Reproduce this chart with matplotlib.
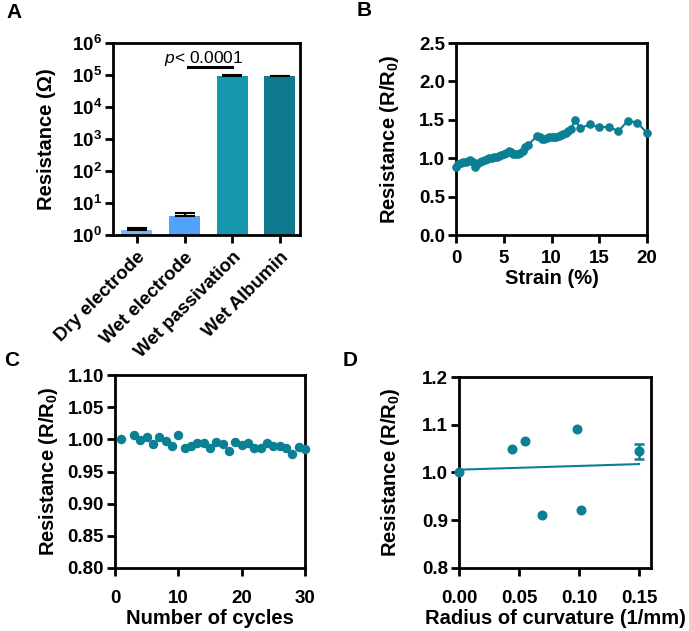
import numpy as np
import matplotlib
matplotlib.use("Agg")
import matplotlib.pyplot as plt

plt.rcParams['font.family'] = ['Liberation Sans', 'DejaVu Sans']
plt.rcParams['font.weight'] = 'bold'
plt.rcParams['mathtext.fontset'] = 'custom'
plt.rcParams['mathtext.rm'] = 'Liberation Sans:bold'
plt.rcParams['mathtext.bf'] = 'Liberation Sans:bold'
plt.rcParams['mathtext.it'] = 'Liberation Sans:style=italic:weight=normal'

# ---- data ----
a_categories = ["Dry electrode", "Wet electrode", "Wet passivation", "Wet Albumin"]
a_values = [1.45, 4.0, 95000, 92000]
a_errors = [0.2, 0.9, 3000, 2000]
a_colors = ["#78b6f6", "#52a2fa", "#1597ae", "#0f7a8e"]
a_yticklabels = [r"$\mathbf{10^{0}}$", r"$\mathbf{10^{1}}$", r"$\mathbf{10^{2}}$",
                 r"$\mathbf{10^{3}}$", r"$\mathbf{10^{4}}$", r"$\mathbf{10^{5}}$",
                 r"$\mathbf{10^{6}}$"]
a_sig_text = "< 0.0001"

b_strain = [0, 0.25, 0.5, 0.75, 1.0, 1.25, 1.5, 1.75, 2.0, 2.25, 2.5, 2.75, 3.0,
            3.25, 3.5, 3.75, 4.0, 4.25, 4.5, 4.75, 5.0, 5.25, 5.5, 5.75, 6.0,
            6.25, 6.5, 6.75, 7.0, 7.25, 7.5, 8.5, 8.75, 9.0, 9.25, 9.5, 9.75,
            10.0, 10.25, 10.5, 10.75, 11.0, 11.25, 11.5, 11.75, 12.0, 12.5,
            13.0, 14.0, 15.0, 16.0, 17.0, 18.0, 19.0, 20.0]
b_resist = [0.88, 0.92, 0.94, 0.95, 0.955, 0.96, 0.975, 0.95, 0.89, 0.92, 0.95,
            0.96, 0.98, 0.99, 1.0, 1.0, 1.01, 1.01, 1.03, 1.04, 1.05, 1.07,
            1.10, 1.08, 1.06, 1.06, 1.05, 1.07, 1.10, 1.14, 1.17, 1.29, 1.27,
            1.25, 1.25, 1.26, 1.27, 1.28, 1.28, 1.28, 1.29, 1.30, 1.31, 1.33,
            1.36, 1.38, 1.50, 1.39, 1.44, 1.40, 1.41, 1.35, 1.49, 1.46, 1.33]

c_cycles = [1, 3, 4, 5, 6, 7, 8, 9, 10, 11, 12, 13, 14, 15, 16, 17, 18, 19, 20,
            21, 22, 23, 24, 25, 26, 27, 28, 29, 30]
c_resist = [1.000, 1.006, 0.999, 1.004, 0.992, 1.004, 0.997, 0.990, 1.006,
            0.986, 0.990, 0.995, 0.994, 0.986, 0.996, 0.992, 0.982, 0.996,
            0.991, 0.995, 0.987, 0.987, 0.994, 0.990, 0.990, 0.986, 0.977,
            0.988, 0.985]

d_curv = [0.0, 0.044, 0.055, 0.069, 0.0985, 0.102, 0.15]
d_resist = [1.0, 1.049, 1.065, 0.912, 1.091, 0.921, 1.044]
d_last_err = 0.015

teal = "#0b7f93"

W, H = 689, 631
fig = plt.figure(figsize=(W / 100, H / 100), dpi=100)

TICK_FS = 13.5
LAB_FS = 14.5


def style(ax, xpad=5):
    for s in ax.spines.values():
        s.set_linewidth(2.0)
    ax.tick_params(direction='out', width=2.0, length=6, labelsize=TICK_FS, pad=2)
    ax.tick_params(axis='x', pad=xpad)
    for lab in ax.get_xticklabels() + ax.get_yticklabels():
        lab.set_fontweight('bold')


def fpos(l, t, r, b):
    return [l / W, 1 - b / H, (r - l) / W, (b - t) / H]


# ---- Panel A ----
axA = fig.add_axes(fpos(113, 43, 300, 235))
x = np.arange(len(a_categories))
axA.bar(x, a_values, width=0.65, color=a_colors, zorder=2)
axA.errorbar(x, a_values, yerr=[np.zeros(4), a_errors], fmt='none',
             ecolor='black', elinewidth=1.5, capsize=7, capthick=1.5, zorder=3)
axA.set_yscale('log')
axA.set_ylim(1, 1e6)
axA.set_xlim(-0.5, 3.42)
axA.set_yticks([10.0 ** k for k in range(7)])
axA.set_yticklabels(a_yticklabels)
axA.yaxis.set_minor_locator(matplotlib.ticker.NullLocator())
axA.set_xticks(x)
axA.set_xticklabels(a_categories, rotation=45, ha='right', rotation_mode='anchor',
                    fontsize=TICK_FS)
axA.set_ylabel("Resistance (Ω)", fontsize=LAB_FS, fontweight='bold', labelpad=11)
style(axA, xpad=4)
axA.plot([1.07, 1.99], [1.74e5, 1.74e5], color='black', lw=2.2, clip_on=False)
tA = axA.text(1.41, 2.3e5, "$p$" + a_sig_text, ha='center', va='baseline',
              fontsize=12.5, fontweight='normal')

# ---- Panel B ----
axB = fig.add_axes(fpos(456, 43, 647, 235))
axB.plot(b_strain, b_resist, '-o', color=teal, markersize=5.2, lw=1.5,
         clip_on=False, zorder=3)
axB.set_xlim(0, 20)
axB.set_ylim(0, 2.5)
axB.set_xticks([0, 5, 10, 15, 20])
axB.set_yticks([0.0, 0.5, 1.0, 1.5, 2.0, 2.5])
axB.yaxis.set_major_formatter(matplotlib.ticker.FormatStrFormatter('%.1f'))
axB.set_xlabel("Strain (%)", fontsize=LAB_FS, fontweight='bold', labelpad=1)
axB.set_ylabel(r"Resistance (R/R$_{0}$)", fontsize=LAB_FS, fontweight='bold', labelpad=13)
style(axB, xpad=5)

# ---- Panel C ----
axC = fig.add_axes(fpos(115, 375, 305, 568))
axC.plot(c_cycles, c_resist, 'o', color=teal, markersize=5.8, clip_on=False, zorder=3)
axC.set_xlim(0, 30)
axC.set_ylim(0.80, 1.10)
axC.set_xticks([0, 10, 20, 30])
axC.set_yticks([0.80, 0.85, 0.90, 0.95, 1.00, 1.05, 1.10])
axC.yaxis.set_major_formatter(matplotlib.ticker.FormatStrFormatter('%.2f'))
axC.set_xlabel("Number of cycles", fontsize=LAB_FS, fontweight='bold', labelpad=1)
axC.set_ylabel(r"Resistance (R/R$_{0}$)", fontsize=LAB_FS, fontweight='bold', labelpad=5)
style(axC, xpad=10)

# ---- Panel D ----
axD = fig.add_axes(fpos(459, 377, 651, 568))
slope, icpt = np.polyfit(d_curv, d_resist, 1)
xl = np.array([d_curv[0], d_curv[-1]])
axD.plot(xl, icpt + slope * xl, '-', color=teal, lw=1.5, zorder=2)
axD.plot(d_curv[:-1], d_resist[:-1], 'o', color=teal, markersize=6.2,
         clip_on=False, zorder=3)
axD.errorbar([d_curv[-1]], [d_resist[-1]], yerr=[d_last_err], fmt='o', color=teal,
             markersize=6.2, elinewidth=1.8, capsize=3.5, capthick=1.8,
             clip_on=False, zorder=3)
axD.set_xlim(0, 0.16)
axD.set_ylim(0.8, 1.2)
axD.set_xticks([0.0, 0.05, 0.10, 0.15])
axD.set_yticks([0.8, 0.9, 1.0, 1.1, 1.2])
axD.xaxis.set_major_formatter(matplotlib.ticker.FormatStrFormatter('%.2f'))
axD.yaxis.set_major_formatter(matplotlib.ticker.FormatStrFormatter('%.1f'))
axD.set_xlabel("Radius of curvature (1/mm)", fontsize=LAB_FS, fontweight='bold', labelpad=1)
axD.set_ylabel(r"Resistance (R/R$_{0}$)", fontsize=LAB_FS, fontweight='bold', labelpad=14)
style(axD, xpad=10)

# ---- Panel letters ----
for lbl, px, py in [("A", 6, 13), ("B", 357, 11), ("C", 4, 360), ("D", 343, 361)]:
    fig.text(px / W, 1 - py / H, lbl, fontsize=15, fontweight='bold',
             ha='left', va='center')

fig.savefig("out.png", dpi=100)
